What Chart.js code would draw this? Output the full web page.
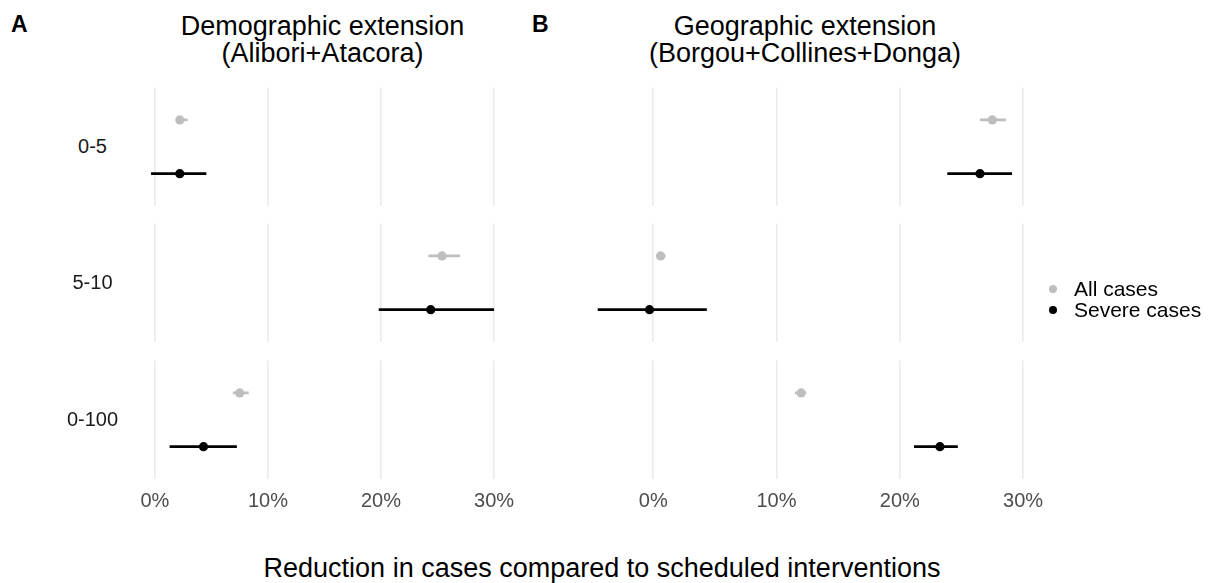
<!DOCTYPE html>
<html>
<head>
<meta charset="utf-8">
<script src="https://cdn.jsdelivr.net/npm/chart.js@4/dist/chart.umd.min.js"></script>
<style>
  html, body { margin: 0; padding: 0; background: #fff; }
  body { width: 1211px; height: 583px; position: relative; overflow: hidden;
         font-family: "Liberation Sans", Arial, sans-serif; }
  canvas { position: absolute; }
  .txt { position: absolute; white-space: nowrap; line-height: 1; transform: translate(-50%, -50%); }
  .title { font-size: 27px; line-height: 27px; color: #000; text-align: center; }
  .letter { font-size: 23px; font-weight: bold; color: #000; transform: translate(0, -50%); }
  .strip { font-size: 20px; color: #1a1a1a; }
  .legend { position: absolute; font-size: 21px; color: #000; }
  .legend div { height: 21px; display: flex; align-items: center; }
  .legend span.dot { width: 8px; height: 8px; border-radius: 50%; display: inline-block; margin-right: 17px; margin-left: -4px; }
</style>
</head>
<body>
<script>
// categories
const ageGroups = ['0-5', '5-10', '0-100'];
const seriesNames = ['All cases', 'Severe cases'];
const seriesColors = ['#bebebe', '#000000'];
const panelLetters = ['A', 'B'];
const panelTitles = [
    ['Demographic extension', '(Alibori+Atacora)'],
    ['Geographic extension', '(Borgou+Collines+Donga)']
];
const xTicks = [0, 10, 20, 30];
const xTitle = 'Reduction in cases compared to scheduled interventions';

// Demographic extension (%), per age group
const demoAllMid  = [2.2, 25.4, 7.5];
const demoAllLow  = [1.9, 24.2, 6.9];
const demoAllHigh = [2.9, 27.0, 8.3];
const demoSevMid  = [2.2, 24.4, 4.3];
const demoSevLow  = [-0.35, 19.8, 1.3];
const demoSevHigh = [4.55, 30.0, 7.25];

// Geographic extension (%), per age group
const geoAllMid  = [27.5, 0.6, 12.0];
const geoAllLow  = [26.5, 0.25, 11.5];
const geoAllHigh = [28.6, 1.0, 12.4];
const geoSevMid  = [26.5, -0.3, 23.25];
const geoSevLow  = [23.85, -4.5, 21.15];
const geoSevHigh = [29.1, 4.35, 24.7];

const panelData = [
    { mid: [demoAllMid, demoSevMid], low: [demoAllLow, demoSevLow], high: [demoAllHigh, demoSevHigh], xMin: -1.85, xMax: 31.5 },
    { mid: [geoAllMid, geoSevMid], low: [geoAllLow, geoSevLow], high: [geoAllHigh, geoSevHigh], xMin: -6.18, xMax: 30.8 }
];

// layout (pixels)
const panelLeft = [134, 577];
const panelWidth = [377, 456];
const rowTop = [83, 219, 356];
const rowHeight = 123;
const axisHeight = 45;
const sidePad = 25; // room for first/last tick label

function addText(cls, text, x, y) {
    const d = document.createElement('div');
    d.className = 'txt ' + cls;
    d.style.left = x + 'px';
    d.style.top = y + 'px';
    d.innerHTML = text;
    document.body.appendChild(d);
    return d;
}

// every cell gets the same geometry; only the bottom row shows its tick labels
function makeCell(p, r) {
    const isBottom = r === ageGroups.length - 1;
    const canvas = document.createElement('canvas');
    canvas.width = panelWidth[p] + 2 * sidePad;
    canvas.height = rowHeight + axisHeight;
    canvas.style.left = (panelLeft[p] - sidePad) + 'px';
    canvas.style.top = rowTop[r] + 'px';
    document.body.appendChild(canvas);

    const pd = panelData[p];
    const datasets = [];
    seriesNames.forEach((name, s) => {
        const yPos = s + 1;
        datasets.push({
            type: 'line',
            label: name + ' range',
            data: [{ x: pd.low[s][r], y: yPos }, { x: pd.high[s][r], y: yPos }],
            borderColor: seriesColors[s],
            borderWidth: 2.8,
            pointRadius: 0,
            fill: false
        });
        datasets.push({
            type: 'scatter',
            label: name,
            data: [{ x: pd.mid[s][r], y: yPos }],
            backgroundColor: seriesColors[s],
            borderWidth: 0,
            pointRadius: 4.6
        });
    });

    new Chart(canvas, {
        type: 'scatter',
        data: { datasets: datasets },
        options: {
            responsive: false,
            animation: false,
            devicePixelRatio: 1,
            layout: { padding: { left: sidePad, right: sidePad, top: 0, bottom: 0 } },
            plugins: { legend: { display: false }, tooltip: { enabled: false } },
            scales: {
                x: {
                    type: 'linear',
                    min: pd.xMin,
                    max: pd.xMax,
                    afterBuildTicks: (scale) => { scale.ticks = xTicks.map(v => ({ value: v })); },
                    afterFit: (scale) => {
                        scale.height = axisHeight;
                        scale.paddingLeft = 0;
                        scale.paddingRight = 0;
                    },
                    grid: { color: '#ebebeb', lineWidth: 1.6, drawTicks: false },
                    border: { display: false },
                    ticks: {
                        padding: 10,
                        color: isBottom ? '#4d4d4d' : 'rgba(0,0,0,0)',
                        font: { family: '"Liberation Sans", Arial, sans-serif', size: 20 },
                        callback: (v) => v + '%'
                    }
                },
                y: { type: 'linear', min: 0.4, max: 2.6, reverse: true, display: false }
            }
        }
    });
}

for (let p = 0; p < panelData.length; p++) {
    for (let r = 0; r < ageGroups.length; r++) makeCell(p, r);
    const cx = panelLeft[p] + panelWidth[p] / 2;
    addText('title', panelTitles[p].join('<br>'), cx, 40);
}

// panel letters
addText('letter', panelLetters[0], 11, 24);
addText('letter', panelLetters[1], 532, 24);

// row strip labels
ageGroups.forEach((g, r) => addText('strip', g, 92.5, rowTop[r] + rowHeight / 2 + 1));

// x axis title
addText('title', xTitle, 602, 568);

// legend
const legend = document.createElement('div');
legend.className = 'legend';
legend.style.left = '1053px';
legend.style.top = '278px';
seriesNames.forEach((name, s) => {
    const row = document.createElement('div');
    row.innerHTML = '<span class="dot" style="background:' + seriesColors[s] + '"></span>' + name;
    legend.appendChild(row);
});
document.body.appendChild(legend);
</script>
</body>
</html>
